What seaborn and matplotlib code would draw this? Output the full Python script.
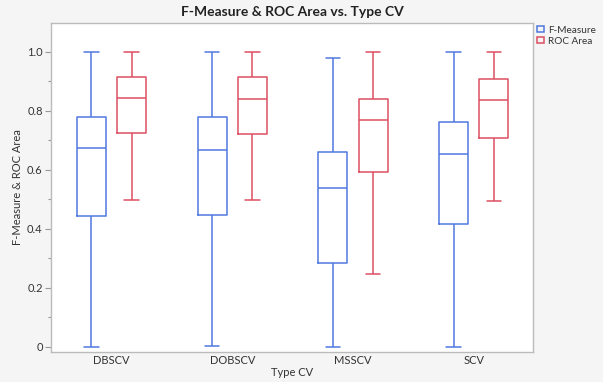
import matplotlib
matplotlib.use("Agg")
import matplotlib.pyplot as plt
import seaborn as sns
import pandas as pd
from matplotlib.ticker import MultipleLocator, FixedLocator

categories = ["DBSCV", "DOBSCV", "MSSCV", "SCV"]
series = ["F-Measure", "ROC Area"]
# five-number summaries (min, Q1, median, Q3, max)
f_measure = {
    "DBSCV":  [0.000, 0.444, 0.673, 0.779, 1.000],
    "DOBSCV": [0.005, 0.447, 0.667, 0.779, 1.000],
    "MSSCV":  [0.000, 0.284, 0.538, 0.662, 0.981],
    "SCV":    [0.000, 0.416, 0.653, 0.762, 1.000],
}
roc_area = {
    "DBSCV":  [0.498, 0.724, 0.843, 0.916, 1.000],
    "DOBSCV": [0.497, 0.721, 0.840, 0.916, 1.000],
    "MSSCV":  [0.247, 0.594, 0.768, 0.840, 1.000],
    "SCV":    [0.494, 0.708, 0.836, 0.907, 1.000],
}
yticks = [0, 0.2, 0.4, 0.6, 0.8, 1.0]
yticklabels = ["0", "0.2", "0.4", "0.6", "0.8", "1.0"]

rows = []
for name, d in zip(series, [f_measure, roc_area]):
    for cat in categories:
        for v in d[cat]:
            rows.append({"Type CV": cat, "Series": name, "Value": v})
df = pd.DataFrame(rows)

blue = "#4f78e0"
red = "#dc4f62"

sns.set_theme(style="white")
plt.rcParams["font.family"] = ["Lato", "DejaVu Sans"]

fig = plt.figure(figsize=(6.03, 3.82), dpi=100, facecolor="#f5f5f5")
ax = fig.add_axes([51 / 603, 1 - 352 / 382, 482 / 603, 329 / 382])
ax.set_facecolor("white")

sns.boxplot(data=df, x="Type CV", y="Value", hue="Series", order=categories,
            hue_order=series, palette=[blue, red], fill=False, whis=(0, 100),
            width=0.667, gap=0.28, linewidth=1.1, ax=ax, legend=True)

ax.set_xlim(-0.5, 3.49)
ax.set_ylim(-0.017, 1.098)
ax.yaxis.set_major_locator(FixedLocator(yticks))
ax.set_yticklabels(yticklabels)
ax.yaxis.set_minor_locator(MultipleLocator(0.1))
ax.tick_params(axis="y", which="major", left=True, length=4, width=0.8,
               color="#999999", labelsize=8, labelcolor="#333333", pad=2)
ax.tick_params(axis="y", which="minor", left=True, length=2.5, width=0.8,
               color="#999999")
ax.tick_params(axis="x", bottom=False, length=0, labelsize=8,
               labelcolor="#333333", pad=2)
for s in ax.spines.values():
    s.set_visible(True)
    s.set_color("#bbbbbb")
    s.set_linewidth(1.0)

ax.set_xlabel("Type CV", fontsize=8, color="#333333", labelpad=1)
ax.set_ylabel("F-Measure & ROC Area", fontsize=8, color="#333333", labelpad=3)
ax.set_title("F-Measure & ROC Area vs. Type CV", fontsize=10,
             fontweight="bold", color="#222222", pad=5)

leg = ax.legend(loc="upper left", bbox_to_anchor=(0.995, 1.01), frameon=False,
                fontsize=7.2, handlelength=0.7, handleheight=0.6,
                handletextpad=0.45, labelspacing=0.2, borderaxespad=0.2)
for t in leg.get_texts():
    t.set_color("#333333")

fig.savefig("out.png", dpi=100, facecolor=fig.get_facecolor())
